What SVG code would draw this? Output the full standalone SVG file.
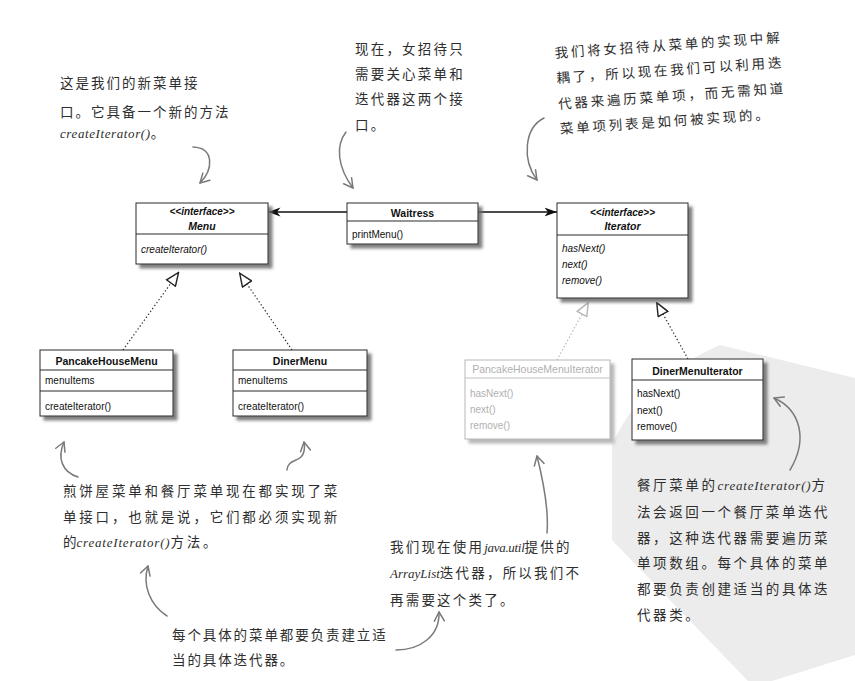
<svg xmlns="http://www.w3.org/2000/svg" width="855" height="681" viewBox="0 0 855 681">
  <defs>
    <style>
      .box { fill: #ffffff; stroke: #2a2a2a; stroke-width: 1; }
      .box-grey { fill: #ffffff; stroke: #b8b8b8; stroke-width: 1; }
      .div { stroke: #2a2a2a; stroke-width: 1; }
      .div-grey { stroke: #c0c0c0; stroke-width: 1; }
      .uml { font-family: "Liberation Sans", Arial, sans-serif; font-size: 10px; fill: #111; }
      .title { font-weight: bold; font-size: 10.5px; text-anchor: middle; }
      .stereo { font-weight: bold; font-style: italic; text-anchor: middle; }
      .ital { font-style: italic; }
      .grey { fill: #b0b0b0; }
      .note { font-family: "Noto Sans CJK SC", "Noto Sans CJK JP", sans-serif; font-size: 13.5px; fill: #2e2e2e; }
      .hand { font-family: "Liberation Serif", "Times New Roman", serif; font-style: italic; font-size: 13px; }
      .assoc { stroke: #111; stroke-width: 1.3; fill: none; }
      .real { stroke: #333; stroke-width: 1.2; stroke-dasharray: 1.4 2.2; fill: none; }
      .real-grey { stroke: #b5b5b5; stroke-width: 1.2; stroke-dasharray: 1.4 2.2; fill: none; }
      .sketch { stroke: #7a7a7a; stroke-width: 1.5; fill: none; stroke-linecap: round; }
    </style>
    <filter id="shadow" x="-10%" y="-10%" width="130%" height="140%">
      <feGaussianBlur in="SourceAlpha" stdDeviation="1.6"/>
      <feOffset dx="3.5" dy="3.5" result="b"/>
      <feFlood flood-color="#6a6a6a" flood-opacity="0.85"/>
      <feComposite in2="b" operator="in" result="s"/>
      <feMerge><feMergeNode in="s"/><feMergeNode in="SourceGraphic"/></feMerge>
    </filter>
    <filter id="shadow-light" x="-10%" y="-10%" width="130%" height="140%">
      <feGaussianBlur in="SourceAlpha" stdDeviation="1.6"/>
      <feOffset dx="3.5" dy="3.5" result="b"/>
      <feFlood flood-color="#9a9a9a" flood-opacity="0.7"/>
      <feComposite in2="b" operator="in" result="s"/>
      <feMerge><feMergeNode in="s"/><feMergeNode in="SourceGraphic"/></feMerge>
    </filter>
    <marker id="solid" markerUnits="userSpaceOnUse" markerWidth="13" markerHeight="10" viewBox="0 0 13 10" refX="12.5" refY="5" orient="auto">
      <path d="M0,0.5 L12.5,5 L0,9.5 L3.5,5 Z" fill="#111"/>
    </marker>
    <marker id="hollow" markerUnits="userSpaceOnUse" markerWidth="15" markerHeight="13" viewBox="0 0 15 13" refX="1" refY="6.5" orient="auto">
      <path d="M1,1 L14,6.5 L1,12 Z" fill="#fff" stroke="#222" stroke-width="1.4" stroke-linejoin="miter"/>
    </marker>
    <marker id="hollow-grey" markerUnits="userSpaceOnUse" markerWidth="15" markerHeight="13" viewBox="0 0 15 13" refX="1" refY="6.5" orient="auto">
      <path d="M1,1 L14,6.5 L1,12 Z" fill="#fff" stroke="#b5b5b5" stroke-width="1.4"/>
    </marker>
    <marker id="pen" markerUnits="userSpaceOnUse" markerWidth="12" markerHeight="12" viewBox="0 0 12 12" refX="10" refY="6" orient="auto">
      <path d="M1,1 L10,6 L1,11" fill="none" stroke="#7a7a7a" stroke-width="1.5" stroke-linecap="round" stroke-linejoin="round"/>
    </marker>
  </defs>

  <rect width="855" height="681" fill="#ffffff"/>

  <!-- faint grey backdrop at the lower right -->
  <path d="M612,445 Q640,380 720,345 L855,378 L855,655 L772,681 L748,681 L612,540 Z" fill="#ececec"/>

  <!-- connectors -->
  <g id="connectors">
    <line class="assoc" x1="347" y1="212" x2="268" y2="212" marker-end="url(#solid)"/>
    <line class="assoc" x1="478" y1="212" x2="557" y2="212" marker-end="url(#solid)"/>
    <line class="real" x1="123" y1="350" x2="171" y2="283" marker-end="url(#hollow)"/>
    <line class="real" x1="292" y1="350" x2="247" y2="284" marker-end="url(#hollow)"/>
    <line class="real-grey" x1="557" y1="360" x2="582" y2="314" marker-end="url(#hollow-grey)"/>
    <line class="real" x1="688" y1="359" x2="663" y2="314" marker-end="url(#hollow)"/>
  </g>

  <!-- classes -->
  <g id="menu" class="uml">
    <rect class="box" x="136" y="203" width="132" height="61" filter="url(#shadow)"/>
    <line class="div" x1="136" y1="234" x2="268" y2="234"/>
    <text class="stereo" x="202" y="215">&lt;&lt;interface&gt;&gt;</text>
    <text class="stereo" x="202" y="230" font-size="10.5">Menu</text>
    <text class="ital" x="141" y="253">createIterator()</text>
  </g>

  <g id="waitress" class="uml">
    <rect class="box" x="347" y="203" width="131" height="41" filter="url(#shadow)"/>
    <line class="div" x1="347" y1="221" x2="478" y2="221"/>
    <text class="title" x="412.5" y="217">Waitress</text>
    <text x="352" y="238">printMenu()</text>
  </g>

  <g id="iterator" class="uml">
    <rect class="box" x="557" y="203" width="131" height="95" filter="url(#shadow)"/>
    <line class="div" x1="557" y1="235" x2="688" y2="235"/>
    <text class="stereo" x="622.5" y="216">&lt;&lt;interface&gt;&gt;</text>
    <text class="stereo" x="622.5" y="230" font-size="10.5">Iterator</text>
    <text class="ital" x="562" y="252">hasNext()</text>
    <text class="ital" x="562" y="268">next()</text>
    <text class="ital" x="562" y="284">remove()</text>
  </g>

  <g id="pancake-house-menu" class="uml">
    <rect class="box" x="40" y="350" width="133" height="66" filter="url(#shadow)"/>
    <line class="div" x1="40" y1="370" x2="173" y2="370"/>
    <line class="div" x1="40" y1="391" x2="173" y2="391"/>
    <text class="title" x="106.5" y="365">PancakeHouseMenu</text>
    <text x="45" y="384">menuItems</text>
    <text x="45" y="410">createIterator()</text>
  </g>

  <g id="diner-menu" class="uml">
    <rect class="box" x="233" y="350" width="134" height="66" filter="url(#shadow)"/>
    <line class="div" x1="233" y1="370" x2="367" y2="370"/>
    <line class="div" x1="233" y1="391" x2="367" y2="391"/>
    <text class="title" x="300" y="365">DinerMenu</text>
    <text x="238" y="384">menuItems</text>
    <text x="238" y="410">createIterator()</text>
  </g>

  <g id="pancake-house-menu-iterator" class="uml">
    <rect class="box-grey" x="465" y="360" width="145" height="79" filter="url(#shadow-light)"/>
    <line class="div-grey" x1="465" y1="378" x2="610" y2="378"/>
    <text class="grey" x="537.5" y="373" text-anchor="middle" font-size="10.5">PancakeHouseMenuIterator</text>
    <text class="grey" x="470" y="397">hasNext()</text>
    <text class="grey" x="470" y="413">next()</text>
    <text class="grey" x="470" y="429">remove()</text>
  </g>

  <g id="diner-menu-iterator" class="uml">
    <rect class="box" x="632" y="359" width="131" height="81" filter="url(#shadow)"/>
    <line class="div" x1="632" y1="380" x2="763" y2="380"/>
    <text class="title" x="697.5" y="375">DinerMenuIterator</text>
    <text x="637" y="397">hasNext()</text>
    <text x="637" y="414">next()</text>
    <text x="637" y="430">remove()</text>
  </g>

  <!-- handwritten notes -->
  <g id="note-menu">
    <text class="note" letter-spacing="2">
      <tspan x="60" y="88">这是我们的新菜单接</tspan>
      <tspan x="60" y="117">口。它具备一个新的方法</tspan>
    </text>
    <text class="note" x="60" y="138"><tspan class="hand" letter-spacing="0.6">createIterator()</tspan>。</text>
    <path class="sketch" d="M193,147 C215,148 213,170 200,183" marker-end="url(#pen)"/>
  </g>

  <g id="note-waitress">
    <text class="note" letter-spacing="2.2">
      <tspan x="355" y="54">现在，女招待只</tspan>
      <tspan x="355" y="79">需要关心菜单和</tspan>
      <tspan x="355" y="104">迭代器这两个接</tspan>
      <tspan x="355" y="130">口。</tspan>
    </text>
    <path class="sketch" d="M346,132 C335,146 338,168 353,188" marker-end="url(#pen)"/>
  </g>

  <g id="note-iterator">
    <text class="note" letter-spacing="2.8" transform="rotate(-4 555 58)">
      <tspan x="555" y="58">我们将女招待从菜单的实现中解</tspan>
      <tspan x="555" y="83">耦了，所以现在我们可以利用迭</tspan>
      <tspan x="555" y="109">代器来遍历菜单项，而无需知道</tspan>
      <tspan x="555" y="134">菜单项列表是如何被实现的。</tspan>
    </text>
    <path class="sketch" d="M544,118 C524,128 522,160 537,180" marker-end="url(#pen)"/>
  </g>

  <g id="note-concrete-menus">
    <text class="note" letter-spacing="2.8">
      <tspan x="63" y="496">煎饼屋菜单和餐厅菜单现在都实现了菜</tspan>
      <tspan x="63" y="522">单接口，也就是说，它们都必须实现新</tspan>
    </text>
    <text class="note" x="63" y="547">的<tspan class="hand" letter-spacing="0.8">createIterator()</tspan><tspan letter-spacing="2.8">方法。</tspan></text>
    <path class="sketch" d="M78,477 C62,472 57,458 64,442" marker-end="url(#pen)"/>
    <path class="sketch" d="M287,470 C288,460 296,462 301,457 C305,453 305,448 304,442" marker-end="url(#pen)"/>
  </g>

  <g id="note-each-menu">
    <text class="note" letter-spacing="1.9">
      <tspan x="172" y="640">每个具体的菜单都要负责建立适</tspan>
      <tspan x="172" y="665">当的具体迭代器。</tspan>
    </text>
    <path class="sketch" d="M167,616 C150,605 142,585 148,566" marker-end="url(#pen)"/>
    <path class="sketch" d="M396,650 C420,650 440,636 439,612" marker-end="url(#pen)"/>
  </g>

  <g id="note-arraylist">
    <text class="note" x="390" y="552"><tspan letter-spacing="2.2">我们现在使用</tspan><tspan class="hand" letter-spacing="-0.3">java.util</tspan><tspan letter-spacing="2.2">提供的</tspan></text>
    <text class="note" x="390" y="578"><tspan class="hand">ArrayList</tspan><tspan letter-spacing="2.2">迭代器，所以我们不</tspan></text>
    <text class="note" x="390" y="605" letter-spacing="2.2">再需要这个类了。</text>
    <path class="sketch" d="M547,533 C549,510 543,480 537,456" marker-end="url(#pen)"/>
  </g>

  <g id="note-diner-iterator">
    <text class="note" x="637" y="490"><tspan letter-spacing="2.6">餐厅菜单的</tspan><tspan class="hand" letter-spacing="0.8">createIterator()</tspan>方</text>
    <text class="note" letter-spacing="2.6">
      <tspan x="637" y="517">法会返回一个餐厅菜单迭代</tspan>
      <tspan x="637" y="543">器，这种迭代器需要遍历菜</tspan>
      <tspan x="637" y="568">单项数组。每个具体的菜单</tspan>
      <tspan x="637" y="594">都要负责创建适当的具体迭</tspan>
      <tspan x="637" y="620">代器类。</tspan>
    </text>
    <path class="sketch" d="M790,470 C808,440 801,410 774,398" marker-end="url(#pen)"/>
  </g>
</svg>
